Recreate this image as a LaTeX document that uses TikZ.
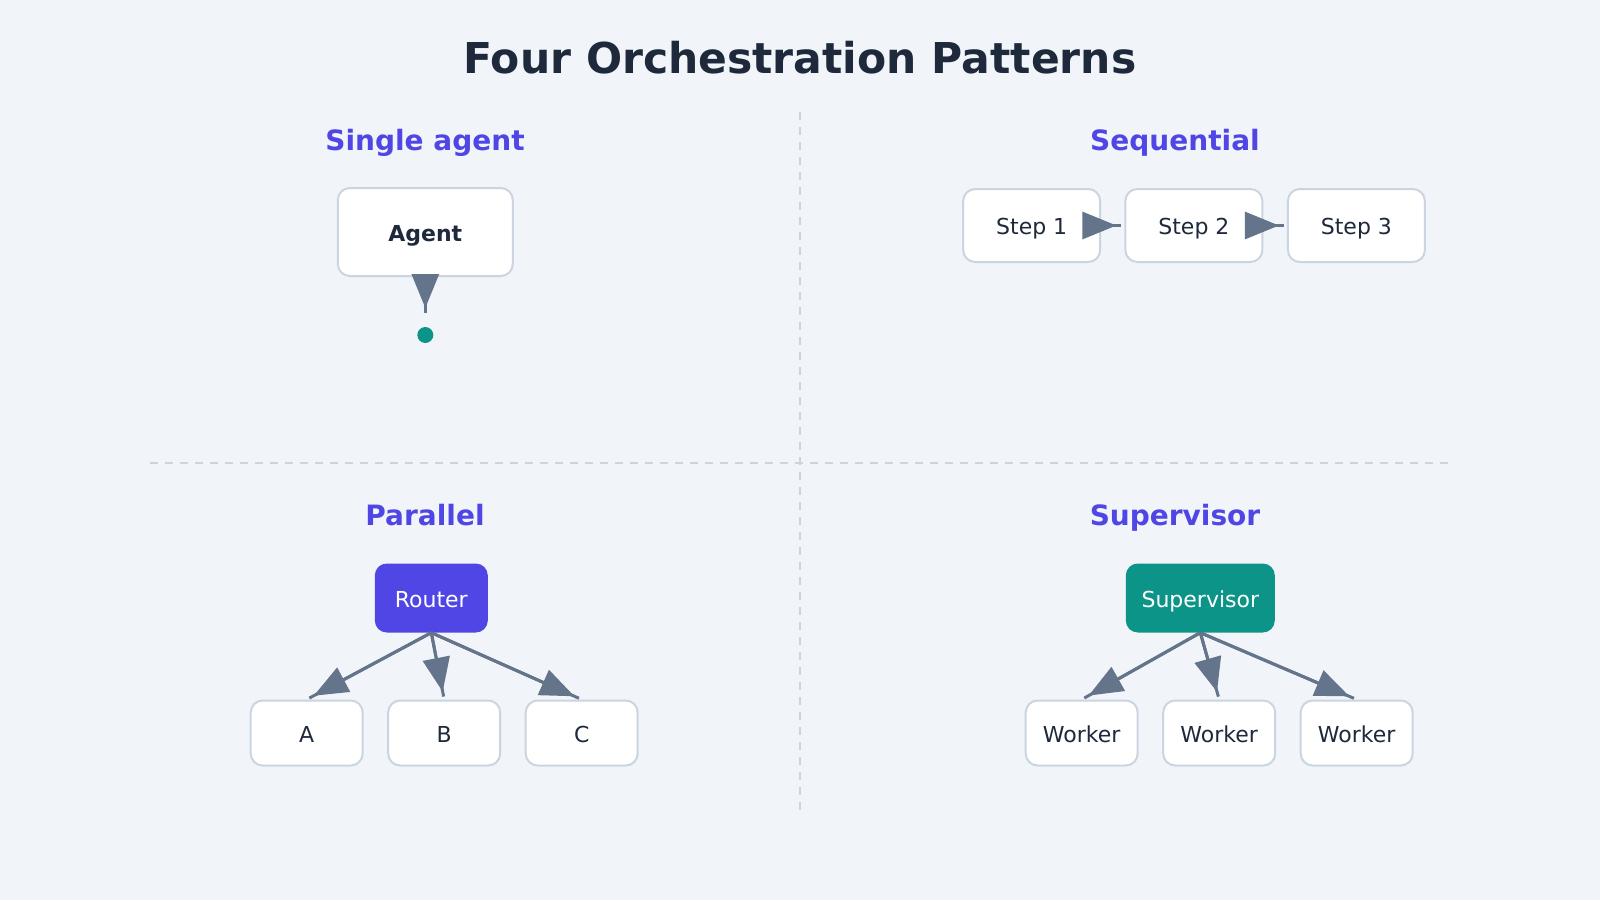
\documentclass[tikz,border=0pt]{standalone}
\usepackage{fontspec}
\setmainfont{DejaVu Sans}
\usetikzlibrary{arrows.meta}
\definecolor{bg}{HTML}{F1F5F9}
\definecolor{ink}{HTML}{1E293B}
\definecolor{indigo}{HTML}{4F46E5}
\definecolor{tealc}{HTML}{0D9488}
\definecolor{edgec}{HTML}{64748B}
\definecolor{bord}{HTML}{CBD5E1}
\begin{document}
\begin{tikzpicture}[x=1pt,y=-1pt,
  box/.style={draw=bord, line width=2pt, fill=white, rounded corners=12pt, inner sep=0pt,
    text=ink, font=\fontsize{22}{26}\selectfont, text height=18pt, text depth=0pt},
  cbox/.style={rounded corners=12pt, inner sep=0pt, text=white,
    font=\fontsize{22}{26}\selectfont, text height=18pt, text depth=0pt},
  sec/.style={text=indigo, font=\fontsize{28}{32}\selectfont\bfseries, anchor=base, inner sep=0pt},
  divider/.style={draw=bord, line width=2pt, dash pattern=on 8pt off 7pt},
  edge/.style={draw=edgec, line width=3pt, shorten >=3pt,
    postaction={draw=edgec, line width=3pt, shorten >=8pt, -{Triangle[length=34pt,width=27pt]}}}
]
\fill[bg] (0,0) rectangle (1600,900);
\useasboundingbox (0,0) rectangle (1600,900);

% dividers
\draw[divider] (800,112) -- (800,812);
\draw[divider] (150,463) -- (1450,463);

% title
\node[text=ink, font=\fontsize{42.5}{50}\selectfont\bfseries, anchor=base, inner sep=0pt] (title) at (800,73.5) {Four Orchestration Patterns};

% section titles
\node[sec] (tsingle) at (425,150) {Single agent};
\node[sec] (tseq) at (1175,150) {Sequential};
\node[sec] (tpar) at (425,525) {Parallel};
\node[sec] (tsup) at (1175,525) {Supervisor};

% single agent
\node[box, minimum width=175pt, minimum height=88pt, font=\fontsize{22}{26}\selectfont\bfseries] (agent) at (425.3,232) {Agent};
\node[circle, fill=tealc, minimum size=16pt, inner sep=0pt] (dot) at (425.3,335) {};
\coordinate (aend) at (425.3,316);
\draw[edge] (agent.south) -- (aend);

% sequential
\node[box, minimum width=137pt, minimum height=73pt] (s1) at (1031.7,225.5) {Step 1};
\node[box, minimum width=137pt, minimum height=73pt] (s2) at (1193.9,225.5) {Step 2};
\node[box, minimum width=137pt, minimum height=73pt] (s3) at (1356.4,225.5) {Step 3};
\draw[edge] (s1.east) -- (s2.west);
\draw[edge] (s2.east) -- (s3.west);

% parallel
\node[cbox, fill=indigo, minimum width=113pt, minimum height=69pt] (router) at (431.3,598) {Router};
\node[box, minimum width=112pt, minimum height=65pt] (pa) at (306.7,733) {A};
\node[box, minimum width=112pt, minimum height=65pt] (pb) at (444.2,733) {B};
\node[box, minimum width=112pt, minimum height=65pt] (pc) at (581.7,733) {C};
\draw[edge] (router.south) -- (pa.north);
\draw[edge] (router.south) -- (pb.north);
\draw[edge] (router.south) -- (pc.north);

% supervisor
\node[cbox, fill=tealc, minimum width=149pt, minimum height=69pt] (sup) at (1200.3,598) {Supervisor};
\node[box, minimum width=112pt, minimum height=65pt] (w1) at (1081.7,733) {Worker};
\node[box, minimum width=112pt, minimum height=65pt] (w2) at (1219.2,733) {Worker};
\node[box, minimum width=112pt, minimum height=65pt] (w3) at (1356.7,733) {Worker};
\draw[edge] (sup.south) -- (w1.north);
\draw[edge] (sup.south) -- (w2.north);
\draw[edge] (sup.south) -- (w3.north);
\end{tikzpicture}
\end{document}
